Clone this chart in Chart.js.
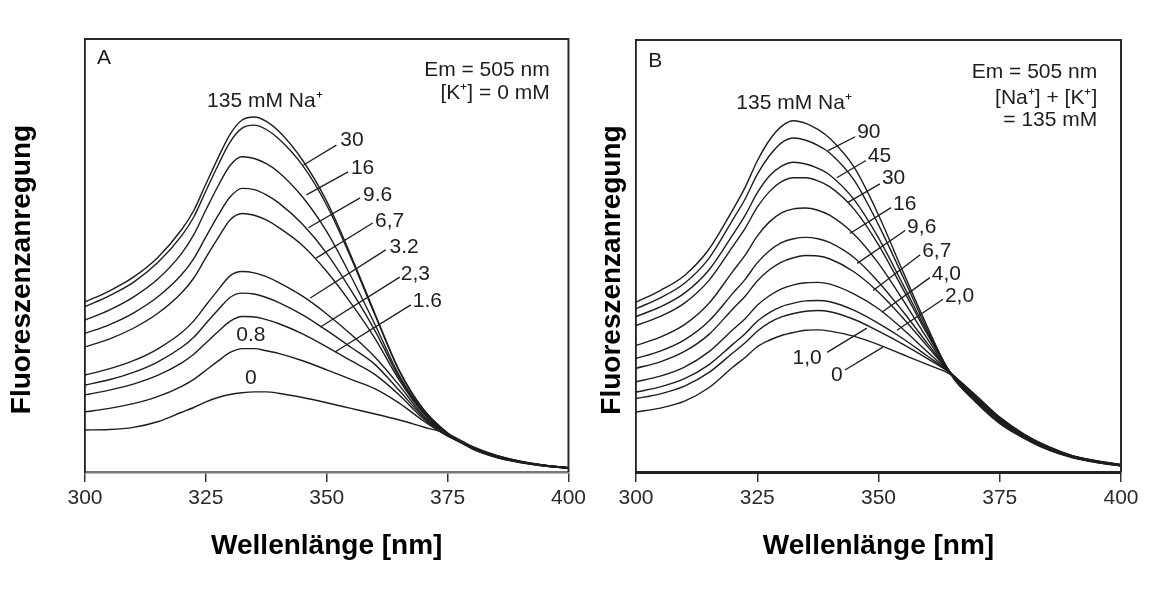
<!DOCTYPE html>
<html>
<head>
<meta charset="utf-8">
<script src="https://cdn.jsdelivr.net/npm/chart.js@4"></script>
<style>
  body { margin: 0; background: #fff; width: 1153px; height: 591px; position: relative; overflow: hidden; }
  #boxA { position: absolute; left: 0; top: 0; width: 590px; height: 591px; }
  #boxB { position: absolute; left: 590px; top: 0; width: 563px; height: 591px; }
</style>
</head>
<body>
<div id="boxA"><canvas id="chartA"></canvas></div>
<div id="boxB"><canvas id="chartB"></canvas></div>
<script>
// wavelength grid (nm), finer around the peak
const wavelengths = [300, 305, 310, 315, 320, 322.5, 325, 327.5, 330, 332.5, 335, 337.5, 340, 345, 350, 355, 360, 365, 370, 375, 380, 385, 390, 395, 400];
const xTicks = [300, 325, 350, 375, 400];

// panel A: [K+] = 0, varying Na+ (mM)
const A_135 = [39.3, 41.8, 45.0, 49.5, 56.0, 60.4, 66.5, 72.5, 78.0, 81.3, 82.0, 81.0, 78.8, 72.0, 62.5, 50.0, 36.5, 23.5, 14.5, 9.0, 5.4, 3.4, 2.2, 1.4, 0.9];
const A_30  = [38.2, 40.7, 43.8, 48.3, 54.6, 58.9, 64.9, 70.8, 76.2, 79.4, 80.1, 79.1, 77.0, 70.8, 61.6, 49.5, 36.2, 23.3, 14.4, 9.0, 5.4, 3.4, 2.2, 1.4, 0.9];
const A_16  = [35.1, 37.4, 40.4, 44.5, 50.5, 54.8, 60.5, 66.0, 70.8, 72.8, 72.4, 71.2, 69.3, 63.5, 55.5, 45.2, 34.0, 22.3, 14.0, 8.9, 5.5, 3.5, 2.3, 1.4, 0.9];
const A_9_6 = [32.0, 34.0, 36.7, 40.4, 45.6, 49.3, 54.3, 59.2, 63.5, 65.5, 65.2, 64.0, 62.2, 57.2, 50.5, 42.0, 32.6, 21.8, 13.8, 8.8, 5.5, 3.5, 2.3, 1.5, 0.9];
const A_6_7 = [28.9, 30.7, 33.2, 36.6, 41.4, 44.8, 49.5, 54.0, 58.2, 59.7, 59.3, 58.2, 56.5, 52.3, 46.3, 39.0, 30.8, 21.2, 13.5, 8.7, 5.6, 3.6, 2.3, 1.5, 0.9];
const A_3_2 = [22.4, 23.8, 25.7, 28.4, 32.2, 34.9, 38.5, 42.0, 45.3, 46.3, 46.0, 45.1, 43.8, 40.6, 36.5, 31.8, 26.5, 20.0, 13.0, 8.6, 5.6, 3.6, 2.4, 1.5, 1.0];
const A_2_3 = [20.1, 21.3, 23.0, 25.4, 28.8, 31.1, 34.3, 37.4, 40.3, 41.3, 41.1, 40.3, 39.2, 36.3, 32.7, 28.8, 24.8, 18.8, 12.7, 8.5, 5.7, 3.7, 2.4, 1.5, 1.0];
const A_1_6 = [17.8, 18.9, 20.3, 22.3, 25.2, 27.2, 29.8, 32.4, 34.8, 35.9, 35.8, 35.2, 34.3, 31.9, 28.9, 25.7, 22.5, 17.8, 12.3, 8.4, 5.7, 3.7, 2.4, 1.6, 1.0];
const A_0_8 = [13.9, 14.7, 15.8, 17.4, 19.8, 21.4, 23.5, 25.6, 27.6, 28.5, 28.5, 28.0, 27.4, 25.7, 23.6, 21.4, 19.2, 15.9, 11.8, 8.3, 5.8, 3.8, 2.5, 1.6, 1.0];
const A_0   = [9.7, 9.8, 10.3, 11.6, 13.8, 14.9, 16.2, 17.2, 17.9, 18.3, 18.5, 18.5, 18.2, 17.2, 16.0, 14.7, 13.4, 12.0, 10.4, 8.8, 6.0, 3.9, 2.5, 1.6, 1.0];

// panel B: [Na+] + [K+] = 135 mM, Na+ (mM)
const B_135 = [39.3, 42.0, 45.5, 51.5, 60.8, 65.9, 72.0, 76.8, 80.0, 81.3, 80.7, 79.3, 77.2, 70.5, 59.5, 46.5, 33.8, 22.4, 16.2, 11.2, 7.8, 5.1, 3.3, 2.2, 1.4];
const B_90  = [37.8, 40.3, 43.7, 49.4, 58.5, 63.2, 68.9, 73.2, 76.2, 77.3, 76.8, 75.6, 73.8, 67.5, 57.2, 45.3, 33.1, 22.6, 16.4, 11.4, 7.9, 5.2, 3.4, 2.2, 1.4];
const B_45  = [36.0, 38.2, 41.4, 46.7, 55.0, 59.4, 64.6, 68.5, 70.8, 71.7, 71.3, 70.3, 68.7, 63.0, 54.2, 43.5, 32.5, 22.7, 16.6, 11.6, 8.0, 5.3, 3.4, 2.3, 1.5];
const B_30  = [33.9, 36.0, 39.1, 44.3, 52.3, 56.4, 61.3, 64.9, 67.2, 68.1, 68.1, 67.4, 66.0, 60.8, 52.6, 42.4, 32.0, 22.7, 16.8, 11.8, 8.1, 5.3, 3.5, 2.3, 1.5];
const B_16  = [29.3, 31.2, 34.1, 39.0, 46.5, 50.2, 54.6, 57.9, 60.0, 60.9, 61.1, 60.6, 59.4, 55.0, 48.3, 39.9, 31.0, 22.7, 17.0, 12.0, 8.2, 5.4, 3.5, 2.4, 1.5];
const B_9_6 = [26.3, 28.0, 30.6, 34.9, 41.4, 44.6, 48.4, 51.2, 53.1, 54.0, 54.3, 54.0, 53.1, 49.6, 44.0, 37.2, 29.9, 22.8, 17.2, 12.1, 8.3, 5.5, 3.6, 2.4, 1.6];
const B_6_7 = [24.0, 25.5, 27.9, 31.8, 37.8, 40.7, 44.2, 46.8, 48.6, 49.6, 50.1, 50.0, 49.3, 46.3, 41.6, 35.7, 29.2, 22.8, 17.4, 12.3, 8.4, 5.6, 3.6, 2.4, 1.6];
const B_4_0 = [20.9, 22.2, 24.3, 27.8, 33.0, 35.5, 38.6, 40.8, 42.4, 43.3, 43.8, 43.9, 43.5, 41.2, 37.8, 33.1, 27.9, 22.8, 17.5, 12.4, 8.5, 5.6, 3.7, 2.5, 1.6];
const B_2_0 = [18.5, 19.7, 21.6, 24.8, 29.6, 32.0, 34.9, 36.9, 38.3, 39.1, 39.6, 39.7, 39.4, 37.4, 34.4, 30.9, 26.9, 22.8, 17.6, 12.5, 8.6, 5.7, 3.7, 2.5, 1.7];
const B_1_0 = [17.0, 18.1, 19.9, 23.0, 27.6, 29.9, 32.6, 34.6, 35.9, 36.7, 37.2, 37.4, 37.1, 35.3, 32.6, 29.6, 26.3, 22.7, 17.7, 12.6, 8.7, 5.8, 3.7, 2.5, 1.7];
const B_0   = [13.9, 14.8, 16.4, 19.5, 24.3, 26.5, 29.0, 30.5, 31.6, 32.3, 32.8, 32.9, 32.6, 31.4, 29.5, 27.2, 24.9, 22.5, 17.8, 12.7, 8.8, 5.9, 3.8, 2.6, 1.7];

const seriesA = [['135', A_135], ['30', A_30], ['16', A_16], ['9.6', A_9_6], ['6,7', A_6_7],
                 ['3.2', A_3_2], ['2,3', A_2_3], ['1.6', A_1_6], ['0.8', A_0_8], ['0', A_0]];
const seriesB = [['135', B_135], ['90', B_90], ['45', B_45], ['30', B_30], ['16', B_16], ['9,6', B_9_6],
                 ['6,7', B_6_7], ['4,0', B_4_0], ['2,0', B_2_0], ['1,0', B_1_0], ['0', B_0]];

// annotations, in data units (wavelength, intensity)
const notesA = [
  { t: 'A', x: 302.5, y: 95.5, align: 'left' },
  { t: 'Em = 505 nm', x: 396.1, y: 92.8, align: 'right' },
  { t: '[K\u207A] = 0 mM', x: 396.1, y: 87.5, align: 'right' },
  { t: '135 mM Na\u207A', x: 337.2, y: 85.6, align: 'center' },
  { t: '30', x: 352.8, y: 76.6, align: 'left' },
  { t: '16', x: 355.0, y: 70.2, align: 'left' },
  { t: '9.6', x: 357.5, y: 64.0, align: 'left' },
  { t: '6,7', x: 360.0, y: 58.0, align: 'left' },
  { t: '3.2', x: 363.0, y: 52.0, align: 'left' },
  { t: '2,3', x: 365.3, y: 45.7, align: 'left' },
  { t: '1.6', x: 367.8, y: 39.5, align: 'left' },
  { t: '0.8', x: 334.3, y: 31.6, align: 'center' },
  { t: '0', x: 334.3, y: 21.7, align: 'center' },
];
const leadersA = [
  [352.0, 75.5, 345.2, 70.9],
  [354.4, 69.3, 345.8, 64.0],
  [356.9, 63.3, 346.2, 56.4],
  [359.5, 57.5, 347.8, 49.4],
  [362.2, 51.3, 346.6, 40.2],
  [365.1, 45.0, 348.7, 33.5],
  [367.4, 38.6, 351.7, 27.7],
];
const notesB = [
  { t: 'B', x: 302.5, y: 95.2, align: 'left' },
  { t: 'Em = 505 nm', x: 395.1, y: 92.6, align: 'right' },
  { t: '[Na\u207A] + [K\u207A]', x: 395.1, y: 86.6, align: 'right' },
  { t: '= 135 mM', x: 395.1, y: 81.5, align: 'right' },
  { t: '135 mM Na\u207A', x: 332.6, y: 85.3, align: 'center' },
  { t: '90', x: 345.6, y: 78.6, align: 'left' },
  { t: '45', x: 347.8, y: 73.2, align: 'left' },
  { t: '30', x: 350.7, y: 67.9, align: 'left' },
  { t: '16', x: 353.0, y: 62.1, align: 'left' },
  { t: '9,6', x: 355.9, y: 56.6, align: 'left' },
  { t: '6,7', x: 359.0, y: 51.0, align: 'left' },
  { t: '4,0', x: 361.0, y: 45.7, align: 'left' },
  { t: '2,0', x: 363.7, y: 40.6, align: 'left' },
  { t: '1,0', x: 335.3, y: 26.3, align: 'center' },
  { t: '0', x: 341.4, y: 22.4, align: 'center' },
];
const leadersB = [
  [345.2, 77.6, 339.6, 74.4],
  [347.4, 72.1, 341.4, 68.1],
  [350.3, 66.7, 343.7, 62.4],
  [352.6, 61.2, 344.1, 55.2],
  [355.5, 55.9, 345.6, 48.3],
  [358.6, 50.3, 348.9, 42.0],
  [360.6, 45.0, 350.7, 37.0],
  [363.3, 40.0, 353.8, 32.8],
  [339.4, 27.7, 347.6, 33.3],
  [343.1, 23.6, 350.9, 28.9],
];

const FONT = '"Liberation Sans", Arial, sans-serif';
const INK = '#1e1e1e';
const Y_TITLE = 'Fluoreszenzanregung';

// top + right edge of the plot box, the y title, text labels and leader lines
const notesPlugin = {
  id: 'notes',
  afterDatasetsDraw(chart, args, opts) {
    const { ctx, chartArea: a, scales: { x, y } } = chart;
    ctx.save();
    ctx.strokeStyle = opts.frameColor;
    ctx.lineWidth = opts.frameWidth;
    ctx.beginPath();
    ctx.moveTo(a.left, a.top);
    ctx.lineTo(a.right, a.top);
    ctx.lineTo(a.right, a.bottom);
    ctx.stroke();

    ctx.strokeStyle = INK;
    ctx.lineWidth = 1.3;
    opts.leaders.forEach(([x0, y0, x1, y1]) => {
      ctx.beginPath();
      ctx.moveTo(x.getPixelForValue(x0), y.getPixelForValue(y0));
      ctx.lineTo(x.getPixelForValue(x1), y.getPixelForValue(y1));
      ctx.stroke();
    });

    ctx.fillStyle = INK;
    ctx.font = '21px ' + FONT;
    ctx.textBaseline = 'middle';
    opts.texts.forEach((n) => {
      ctx.textAlign = n.align;
      ctx.fillText(n.t, x.getPixelForValue(n.x), y.getPixelForValue(n.y));
    });

    // rotated y-axis title, sitting a bit below the plot centre like the original
    ctx.fillStyle = '#000';
    ctx.font = 'bold 28px ' + FONT;
    ctx.textAlign = 'center';
    ctx.translate(22, (a.top + a.bottom) / 2 + 14);
    ctx.rotate(-Math.PI / 2);
    ctx.fillText(Y_TITLE, 0, 0);
    ctx.restore();
  }
};

function makeChart(id, series, texts, leaders, yWidth, pad, frame) {
  new Chart(id, {
    type: 'line',
    data: {
      datasets: series.map(([name, vals]) => ({
        label: name,
        data: wavelengths.map((w, i) => ({ x: w, y: vals[i] })),
        borderColor: INK,
        borderWidth: 1.4,
        pointRadius: 0,
        fill: false,
        cubicInterpolationMode: 'monotone',
      })),
    },
    options: {
      responsive: true,
      maintainAspectRatio: false,
      animation: false,
      layout: { padding: pad },
      plugins: {
        legend: { display: false },
        tooltip: { enabled: false },
        notes: { texts: texts, leaders: leaders, frameColor: frame.color, frameWidth: frame.width },
      },
      scales: {
        x: {
          type: 'linear',
          min: 300,
          max: 400,
          afterBuildTicks: (s) => { s.ticks = xTicks.map((v) => ({ value: v })); },
          afterFit: (s) => { s.height = 119; },
          ticks: { color: '#2a2a2a', padding: 4, font: { family: FONT, size: 21 } },
          grid: { display: true, drawOnChartArea: false, drawTicks: true, tickLength: 10, color: '#333', lineWidth: 1.5 },
          border: { display: true, color: frame.axis, width: frame.axisWidth },
          title: { display: true, text: 'Wellenlänge [nm]', color: '#000',
                   font: { family: FONT, size: 28, weight: 'bold' }, padding: { top: 0, bottom: 28 } },
        },
        y: {
          min: 0,
          max: 100,
          afterFit: (s) => { s.width = yWidth; },
          ticks: { display: false },
          grid: { display: false },
          border: { display: true, color: INK, width: 1.8 },
        },
      },
    },
    plugins: [notesPlugin],
  });
}

makeChart('chartA', seriesA, notesA, leadersA, 85, { left: 0, top: 39, right: 18, bottom: 0 },
          { color: '#2a2a2a', width: 2, axis: '#777', axisWidth: 2.5 });
makeChart('chartB', seriesB, notesB, leadersB, 46, { left: 0, top: 40, right: 32, bottom: 0 },
          { color: '#2a2a2a', width: 2, axis: '#222', axisWidth: 3 });
</script>
</body>
</html>
